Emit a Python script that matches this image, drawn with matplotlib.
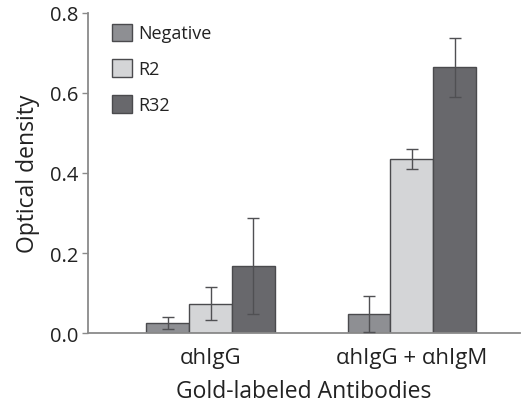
import numpy as np
import matplotlib
matplotlib.use("Agg")
import matplotlib.pyplot as plt

plt.rcParams['font.family'] = ['Open Sans', 'DejaVu Sans']

groups = ['αhIgG', 'αhIgG + αhIgM']
series = ['Negative', 'R2', 'R32']
values = {
    'Negative': [0.025, 0.048],
    'R2': [0.073, 0.435],
    'R32': [0.168, 0.664],
}
errors = {
    'Negative': [0.015, 0.045],
    'R2': [0.041, 0.025],
    'R32': [0.120, 0.074],
}
colors = {'Negative': '#8e8f93', 'R2': '#d4d5d7', 'R32': '#68686c'}

fig = plt.figure(figsize=(5.25, 4.06), dpi=100)
ax = fig.add_axes([0.168, 0.177, 0.822, 0.789])

x = np.arange(len(groups))
width = 0.213
for i, name in enumerate(series):
    pos = x + (i - 1) * width
    ax.bar(pos, values[name], width, color=colors[name], edgecolor='#4a4a4d',
           linewidth=1.0, label=name, zorder=2)
    ax.errorbar(pos, values[name], yerr=errors[name], fmt='none',
                ecolor='#505053', elinewidth=1.0, capsize=4, capthick=1.0, zorder=3)

ax.set_xlim(-0.608, 1.536)
ax.set_ylim(0, 0.8)
ax.set_yticks([0.0, 0.2, 0.4, 0.6, 0.8])
ax.set_yticklabels(['0.0', '0.2', '0.4', '0.6', '0.8'])
ax.set_xticks(x)
ax.set_xticklabels(groups)

for side in ['top', 'right']:
    ax.spines[side].set_visible(False)
for side in ['left', 'bottom']:
    ax.spines[side].set_color('#8a8a8a')
    ax.spines[side].set_linewidth(1.3)

ax.tick_params(axis='y', length=4, width=1, color='#8a8a8a', labelsize=14.5,
               labelcolor='#222222', pad=3)
ax.tick_params(axis='x', length=0, labelsize=16, labelcolor='#222222', pad=10)

ax.set_ylabel('Optical density', fontsize=16.5, color='#222222', labelpad=7)
ax.set_xlabel('Gold-labeled Antibodies', fontsize=16.5, color='#222222', labelpad=8)

leg = ax.legend(loc='upper left', bbox_to_anchor=(0.026, 1.006), frameon=False,
                fontsize=13, handlelength=1.1, handleheight=1.1,
                labelspacing=0.95, handletextpad=0.35, borderaxespad=0.3)
for t in leg.get_texts():
    t.set_color('#222222')

fig.savefig('out.png', dpi=100)
